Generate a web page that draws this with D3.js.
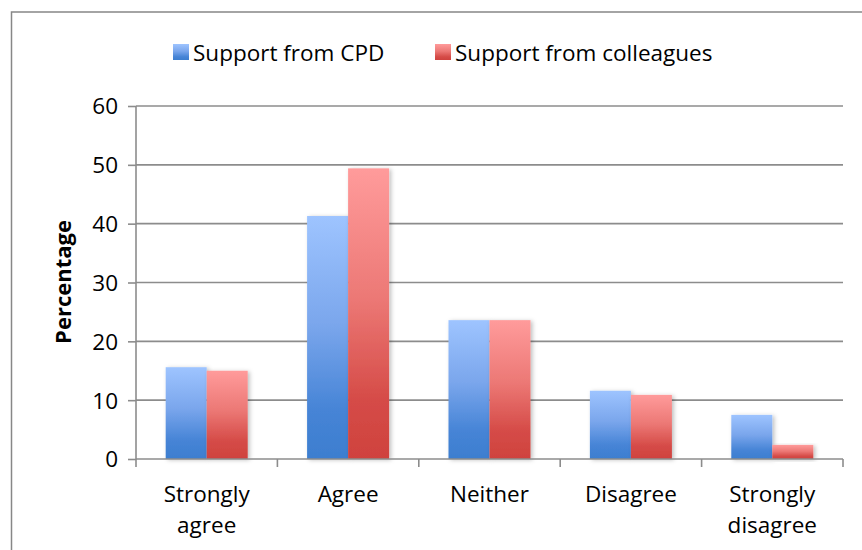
<!DOCTYPE html>
<html>
<head>
<meta charset="utf-8">
<script src="https://cdn.jsdelivr.net/npm/d3@7/dist/d3.min.js"></script>
<style>
  html, body { margin: 0; padding: 0; background: #fff; }
  svg { display: block; }
  text { font-family: "Open Sans", "Noto Sans", sans-serif; fill: #000; }
</style>
</head>
<body>
<svg id="chart" width="862" height="550"></svg>
<script>
// Survey responses: share of respondents (%) per answer
const categories = [["Strongly", "agree"], ["Agree"], ["Neither"], ["Disagree"], ["Strongly", "disagree"]];
const seriesNames = ["Support from CPD", "Support from colleagues"];
const cpdValues = [15.6, 41.3, 23.6, 11.6, 7.5];
const colleagueValues = [15.0, 49.4, 23.6, 10.9, 2.4];
const yTicks = [0, 10, 20, 30, 40, 50, 60];

const FS = 22.5;
const svg = d3.select("#chart");
const margin = { left: 136, right: 19, top: 106, bottom: 91 };
const W = 862, H = 550;
const innerW = W - margin.left - margin.right;
const innerH = H - margin.top - margin.bottom;

// Gradients for the two series
const defs = svg.append("defs");
const grads = [
  { id: "gBlue", stops: [["0%", "#9EC4FF"], ["45%", "#7AA6EC"], ["80%", "#4684D6"], ["100%", "#3D7ECF"]] },
  { id: "gRed", stops: [["0%", "#FF9B9B"], ["45%", "#EC7875"], ["80%", "#D54B47"], ["100%", "#CF423E"]] }
];
grads.forEach(g => {
  const lg = defs.append("linearGradient").attr("id", g.id)
    .attr("x1", 0).attr("y1", 0).attr("x2", 0).attr("y2", 1);
  g.stops.forEach(s => lg.append("stop").attr("offset", s[0]).attr("stop-color", s[1]));
});
const shadow = defs.append("filter").attr("id", "shadow")
  .attr("x", "-20%").attr("y", "-10%").attr("width", "150%").attr("height", "130%");
shadow.append("feDropShadow").attr("dx", 2).attr("dy", 1).attr("stdDeviation", 2)
  .attr("flood-color", "#000").attr("flood-opacity", 0.25);

// Outer frame
svg.append("rect").attr("x", 11.5).attr("y", 12).attr("width", 900).attr("height", 600)
  .attr("fill", "none").attr("stroke", "#878787").attr("stroke-width", 1.5);

const g = svg.append("g").attr("transform", `translate(${margin.left},${margin.top})`);

const x0 = d3.scaleBand().domain(d3.range(categories.length)).range([0, innerW]).paddingInner(0.42).paddingOuter(0.21);
const x1 = d3.scaleBand().domain([0, 1]).range([0, x0.bandwidth()]);
const y = d3.scaleLinear().domain([0, 60]).range([innerH, 0]);

// Gridlines
g.append("g").selectAll("line").data(yTicks.filter(t => t > 0)).join("line")
  .attr("x1", 0).attr("x2", innerW)
  .attr("y1", d => y(d)).attr("y2", d => y(d))
  .attr("stroke", "#8c8c8c").attr("stroke-width", 1.6);

// Y axis
const yAxis = g.append("g").call(d3.axisLeft(y).tickValues(yTicks).tickSize(8).tickPadding(17 - 8 + 1));
yAxis.select(".domain").remove();
yAxis.selectAll(".tick line").attr("stroke", "#8c8c8c").attr("stroke-width", 1.6);
yAxis.selectAll(".tick text").attr("font-size", FS).attr("font-family", "Open Sans").attr("fill", "#000").attr("dy", "0.35em");
g.append("line").attr("x1", 0).attr("x2", 0).attr("y1", 0).attr("y2", innerH)
  .attr("stroke", "#8c8c8c").attr("stroke-width", 1.6);

// Bars
const series = [cpdValues, colleagueValues];
const fills = ["url(#gBlue)", "url(#gRed)"];
series.forEach((vals, si) => {
  g.append("g").selectAll("rect").data(vals).join("rect")
    .attr("x", (d, i) => x0(i) + x1(si))
    .attr("y", d => y(d))
    .attr("width", x1.bandwidth())
    .attr("height", d => innerH - y(d))
    .attr("fill", fills[si])
    .attr("filter", "url(#shadow)");
});

// X axis with ticks between categories
g.append("line").attr("x1", 0).attr("x2", innerW).attr("y1", innerH).attr("y2", innerH)
  .attr("stroke", "#8c8c8c").attr("stroke-width", 1.6);
const step = innerW / categories.length;
g.append("g").selectAll("line").data(d3.range(categories.length + 1)).join("line")
  .attr("x1", d => d * step).attr("x2", d => d * step)
  .attr("y1", innerH).attr("y2", innerH + 8)
  .attr("stroke", "#8c8c8c").attr("stroke-width", 1.6);

// Category labels
categories.forEach((lines, i) => {
  const cx = x0(i) + x0.bandwidth() / 2;
  const t = g.append("text").attr("text-anchor", "middle").attr("font-size", FS)
    .attr("x", cx).attr("y", innerH + 43);
  lines.forEach((ln, k) => t.append("tspan").attr("x", cx)
    .attr("dy", k === 0 ? 0 : 31).text(ln));
});

// Y title
svg.append("text").attr("transform", "translate(71,282) rotate(-90)")
  .attr("text-anchor", "middle").attr("font-size", 22).attr("font-weight", "bold")
  .text("Percentage");

// Legend
const legend = svg.append("g");
const legendX = [173, 435];
seriesNames.forEach((name, i) => {
  legend.append("rect").attr("x", legendX[i]).attr("y", 44).attr("width", 16).attr("height", 16)
    .attr("fill", fills[i]);
  legend.append("text").attr("x", legendX[i] + 20).attr("y", 61).attr("font-size", FS).text(name);
});
</script>
</body>
</html>
